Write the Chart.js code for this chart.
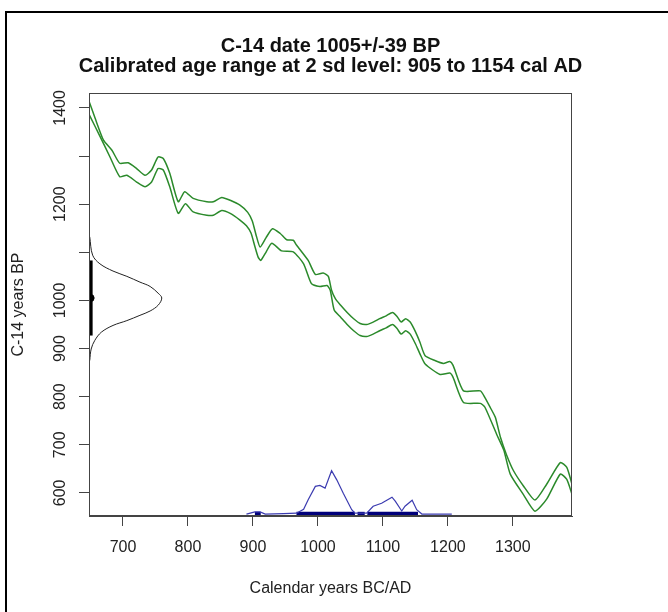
<!DOCTYPE html>
<html lang="en">
<head>
<meta charset="UTF-8">
<title>C-14 calibration</title>
<script src="https://cdn.jsdelivr.net/npm/chart.js@4.4.0/dist/chart.umd.min.js"></script>
<style>
  html, body { margin: 0; padding: 0; background: #fff; }
  #wrap { position: relative; width: 668px; height: 612px; }
</style>
</head>
<body>
<div id="wrap"><canvas id="calib" width="668" height="612"></canvas></div>
<script>
// --- data ---
const titleLines = ['C-14 date 1005+/-39 BP', 'Calibrated age range at 2 sd level: 905 to 1154 cal AD'];
const c14Date = 1005;
const c14Error = 39;
const xTicks = [700, 800, 900, 1000, 1100, 1200, 1300];
const yTicks = [600, 700, 800, 900, 1000, 1100, 1200, 1300, 1400];
const yLabelled = [600, 700, 800, 900, 1000, 1200, 1400];

// calibration curve, upper and lower edge (cal AD -> C-14 BP)
const upperYears = [648, 657, 670, 683, 695, 708, 721, 734, 744, 754, 762, 772, 785, 795, 808, 829, 839, 852, 865, 880,
  892, 899, 905, 911, 920, 930, 942, 952, 962, 967, 985, 996, 1008, 1016, 1021,
  1027, 1035, 1045, 1055, 1065, 1075, 1085, 1095, 1105, 1115, 1122, 1128, 1135, 1142, 1150, 1157,
  1165, 1180, 1193, 1203, 1208, 1224, 1250, 1257, 1265, 1273, 1281, 1290, 1301, 1316, 1334, 1352, 1373, 1383, 1391];
const upperBP = [1413, 1379, 1333, 1312, 1285, 1286, 1274, 1260, 1271, 1298, 1295, 1264, 1205, 1226, 1212, 1205, 1205, 1214, 1208, 1198,
  1183, 1165, 1135, 1111, 1130, 1149, 1139, 1126, 1125, 1115, 1083, 1054, 1057, 1050, 1021,
  1003, 990, 975, 962, 952, 950, 955, 962, 968, 975, 966, 955, 962, 955, 935, 913,
  885, 875, 869, 873, 865, 812, 812, 798, 778, 757, 715, 680, 646, 615, 585, 618, 663, 653, 618];
const lowerYears = [648, 665, 680, 695, 706, 721, 734, 744, 754, 762, 772, 785, 796, 808, 829, 839, 852, 865, 880,
  890, 897, 903, 908, 912, 920, 929, 944, 962, 978, 990, 1003, 1014, 1019,
  1025, 1035, 1045, 1055, 1065, 1075, 1085, 1095, 1105, 1115, 1122, 1128, 1135, 1142, 1150, 1157,
  1165, 1188, 1203, 1208, 1224, 1250, 1257, 1275, 1286, 1296, 1316, 1334, 1352, 1373, 1383, 1391];
const lowerBP = [1386, 1340, 1298, 1257, 1260, 1246, 1236, 1246, 1274, 1271, 1236, 1181, 1201, 1184, 1177, 1177, 1187, 1181, 1167,
  1155, 1140, 1112, 1090, 1083, 1100, 1119, 1103, 1101, 1076, 1035, 1029, 1031, 1021,
  980, 965, 950, 937, 927, 925, 930, 937, 943, 950, 941, 930, 937, 930, 910, 889,
  868, 846, 849, 840, 788, 786, 778, 722, 689, 639, 597, 562, 587, 639, 628, 597];

// measured C-14 distribution (relative height) on the y axis
const gaussBP = [1132, 1094, 1076, 1061, 1050, 1038, 1029, 1015, 1005, 990, 978, 969, 958, 948, 934, 917, 899, 875];
const gaussHeight = [0.01, 0.05, 0.15, 0.33, 0.52, 0.70, 0.84, 0.95, 1, 0.95, 0.84, 0.70, 0.52, 0.33, 0.17, 0.08, 0.03, 0.01];

// calibrated probability (relative height) on the x axis
const distYears = [890, 903, 911, 919, 947, 967, 978, 985, 996, 1003, 1011, 1021, 1029, 1039, 1052, 1057, 1075, 1085, 1098, 1114, 1119,
  1129, 1134, 1145, 1152, 1160, 1191, 1206];
const distHeight = [0, 0.05, 0.05, 0, 0.01, 0.02, 0.11, 0.33, 0.64, 0.66, 0.60, 1, 0.79, 0.48, 0.10, 0.02, 0.02, 0.18, 0.25, 0.39, 0.30,
  0.07, 0.18, 0.32, 0.10, 0, 0, 0];

// 2 sd calibrated ranges
const rangeFrom = [903, 967, 1061, 1076];
const rangeTo = [912, 1057, 1072, 1154];

// --- display settings ---
const xMin = 647.7, xMax = 1391;
const yMin = 552, yMax = 1431;
const gaussSpan = 112;   // years used by the full height of the C-14 curve
const distBase = 556;    // BP level of the probability baseline
const distSpan = 90;     // BP units used by the full height of the probability curve
const FONT = '"Liberation Sans", Arial, Helvetica, sans-serif';

const pts = (xs, ys) => xs.map((x, i) => ({x: x, y: ys[i]}));

const datasets = [
  {data: pts(upperYears, upperBP), borderColor: '#2b8a2b', borderWidth: 1.5, tension: 0.2},
  {data: pts(lowerYears, lowerBP), borderColor: '#2b8a2b', borderWidth: 1.5, tension: 0.2},
  {data: gaussBP.map((b, i) => ({x: xMin + gaussHeight[i] * gaussSpan, y: b})), borderColor: '#222', borderWidth: 1, tension: 0.35},
  {data: [{x: xMin + 2.5, y: c14Date - 2 * c14Error}, {x: xMin + 2.5, y: c14Date + 2 * c14Error}], borderColor: '#000', borderWidth: 4},
  {data: [{x: xMin + 2.5, y: c14Date}], showLine: false, pointRadius: 3.5, pointBackgroundColor: '#000', pointBorderColor: '#000'},
  {data: distYears.map((y, i) => ({x: y, y: distBase + distHeight[i] * distSpan})), borderColor: '#3b3bb0', borderWidth: 1.2, tension: 0}
];
rangeFrom.forEach((f, i) => {
  datasets.push({data: [{x: f, y: distBase}, {x: rangeTo[i], y: distBase}], borderColor: '#00007a', borderWidth: 4.5});
});
datasets.forEach(d => {
  if (d.showLine === undefined) d.showLine = true;
  if (d.pointRadius === undefined) d.pointRadius = 0;
  d.borderCapStyle = 'butt';
});

const decor = {
  id: 'decor',
  beforeDraw(chart) {
    const c = chart.ctx;
    c.save();
    c.fillStyle = '#fff';
    c.fillRect(0, 0, chart.width, chart.height);
    c.strokeStyle = '#000';
    c.lineWidth = 2;
    c.beginPath();
    c.moveTo(6, chart.height + 2);
    c.lineTo(6, 12);
    c.lineTo(chart.width + 2, 12);
    c.stroke();
    c.restore();
  },
  afterDraw(chart) {
    const {ctx: c, chartArea: a, scales} = chart;
    c.save();
    c.strokeStyle = '#444';
    c.lineWidth = 1;
    c.strokeRect(a.left + 0.5, a.top + 0.5, a.right - a.left - 1, a.bottom - a.top - 1);

    c.fillStyle = '#111';
    c.font = 'bold 20px ' + FONT;
    c.textAlign = 'center';
    c.textBaseline = 'middle';
    const cx = (a.left + a.right) / 2;
    titleLines.forEach((t, i) => c.fillText(t, cx, a.top - 47 + i * 20));

    c.font = '16px ' + FONT;
    c.fillStyle = '#222';
    yLabelled.forEach(v => {
      const y = scales.y.getPixelForValue(v);
      c.save();
      c.translate(a.left - 28, y);
      c.rotate(-Math.PI / 2);
      c.fillText(String(v), 0, 0);
      c.restore();
    });
    c.restore();
  }
};

new Chart(document.getElementById('calib').getContext('2d'), {
  type: 'scatter',
  data: {datasets: datasets},
  options: {
    responsive: false,
    animation: false,
    devicePixelRatio: 1,
    layout: {padding: {left: 0, right: 96, top: 93, bottom: 0}},
    plugins: {legend: {display: false}, tooltip: {enabled: false}, title: {display: false}},
    scales: {
      x: {
        type: 'linear', min: xMin, max: xMax,
        afterFit: s => { s.height = 96; },
        afterBuildTicks: s => { s.ticks = xTicks.map(v => ({value: v})); },
        grid: {drawOnChartArea: false, tickLength: 10, color: '#444'},
        border: {color: '#444'},
        ticks: {autoSkip: false, maxRotation: 0, padding: 12, color: '#222', font: {family: FONT, size: 16},
          callback: v => String(v)},
        title: {display: true, text: 'Calendar years BC/AD', color: '#222', font: {family: FONT, size: 16}, padding: {bottom: 14}}
      },
      y: {
        type: 'linear', min: yMin, max: yMax,
        afterFit: s => { s.width = 89; },
        afterBuildTicks: s => { s.ticks = yTicks.map(v => ({value: v})); },
        grid: {drawOnChartArea: false, tickLength: 10, color: '#444'},
        border: {color: '#444'},
        ticks: {display: false},
        title: {display: true, text: 'C-14 years BP', color: '#222', font: {family: FONT, size: 16}, padding: {top: 9}}
      }
    }
  },
  plugins: [decor]
});
</script>
</body>
</html>
